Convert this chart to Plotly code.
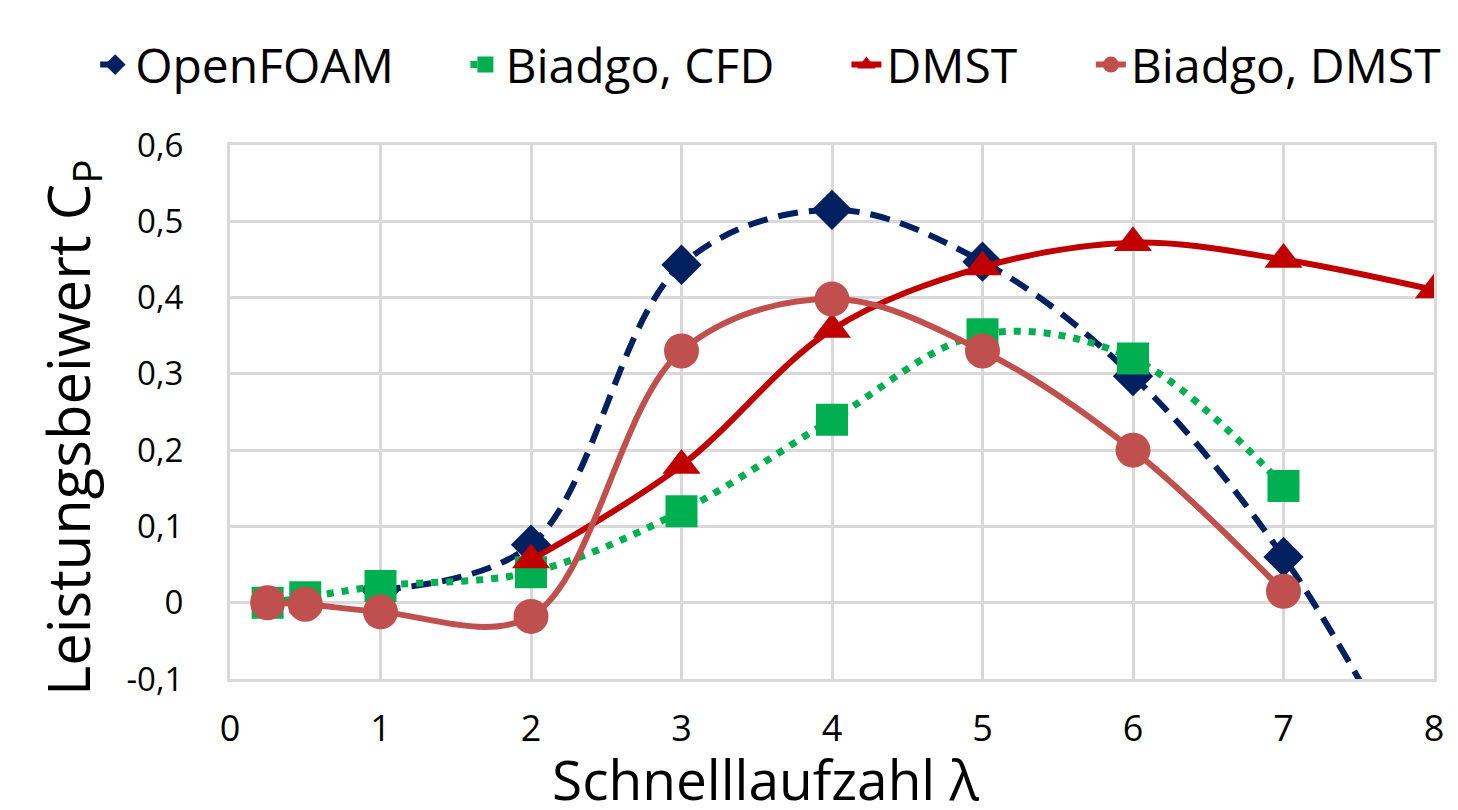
import plotly.graph_objects as go

# Data
of_x = [1, 2, 3, 4, 5, 6, 7, 8]
of_y = [0.017, 0.076, 0.443, 0.515, 0.447, 0.297, 0.06, -0.28]

cfd_x = [0.25, 0.5, 1, 2, 3, 4, 5, 6, 7]
cfd_y = [0.0, 0.007, 0.022, 0.04, 0.12, 0.24, 0.352, 0.32, 0.153]

dmst_x = [2, 3, 4, 5, 6, 7, 8]
dmst_y = [0.056, 0.18, 0.358, 0.44, 0.472, 0.45, 0.41]

bd_x = [0.25, 0.5, 1, 2, 3, 4, 5, 6, 7]
bd_y = [0.0, -0.002, -0.012, -0.018, 0.33, 0.398, 0.33, 0.2, 0.015]

x_ticks = [0, 1, 2, 3, 4, 5, 6, 7, 8]
y_ticks = [-0.1, 0, 0.1, 0.2, 0.3, 0.4, 0.5, 0.6]

x_title = "Schnelllaufzahl λ"
y_title = "Leistungsbeiwert C<sub>P</sub>"

FONT = "Open Sans"

fig = go.Figure()
fig.add_trace(go.Scatter(
    x=of_x, y=of_y, name="OpenFOAM", mode="lines+markers", legend="legend",
    line=dict(color="#002060", width=6, dash="20px,11px", shape="spline"),
    marker=dict(symbol="diamond", size=31, color="#002060"),
))
fig.add_trace(go.Scatter(
    x=cfd_x, y=cfd_y, name="Biadgo, CFD", mode="lines+markers", legend="legend2",
    line=dict(color="#00B050", width=7, dash="7px,8px", shape="spline"),
    marker=dict(symbol="square", size=32, color="#00B050"),
))
fig.add_trace(go.Scatter(
    x=dmst_x, y=dmst_y, name="DMST", mode="lines+markers", legend="legend3",
    line=dict(color="#C00000", width=6, shape="spline"),
    marker=dict(symbol="triangle-up", size=33, color="#C00000"),
))
fig.add_trace(go.Scatter(
    x=bd_x, y=bd_y, name="Biadgo, DMST", mode="lines+markers", legend="legend4",
    line=dict(color="#C0504D", width=6, shape="spline"),
    marker=dict(symbol="circle", size=35, color="#C0504D"),
))

def leg(xpos):
    return dict(
        orientation="h", x=xpos, xanchor="left", y=1.15, yanchor="middle",
        font=dict(size=48, family=FONT, color="black"),
        itemsizing="trace", bgcolor="rgba(0,0,0,0)",
    )

fig.update_layout(
    width=1458, height=810,
    margin=dict(l=230, r=21, t=145, b=131),
    paper_bgcolor="white", plot_bgcolor="white",
    separators=",.",
    font=dict(family=FONT, color="black"),
    showlegend=True,
    legend=leg(-0.112),
    legend2=leg(0.1955),
    legend3=leg(0.512),
    legend4=leg(0.715),
    annotations=[
        dict(text=x_title, xref="paper", yref="paper", x=0.445, y=-0.187,
             xanchor="center", yanchor="middle", showarrow=False,
             font=dict(size=55, family=FONT, color="black")),
        dict(text=y_title, xref="paper", yref="paper", x=-0.132, y=0.47,
             xanchor="center", yanchor="middle", showarrow=False, textangle=-90,
             font=dict(size=58, family=FONT, color="black")),
    ],
)
fig.update_xaxes(
    range=[0, 8], tickvals=x_ticks, ticktext=[str(v) for v in x_ticks],
    showgrid=True, gridcolor="#D9D9D9", gridwidth=3,
    showline=True, linecolor="#D9D9D9", linewidth=3, mirror=True,
    zeroline=False,
    ticks="outside", ticklen=16, tickcolor="rgba(0,0,0,0)",
    tickfont=dict(size=36, family=FONT, color="black"),
)
fig.update_yaxes(
    range=[-0.1, 0.6], tickvals=y_ticks,
    ticktext=[("%.1f" % v).replace(".", ",") if v != 0 else "0" for v in y_ticks],
    showgrid=True, gridcolor="#D9D9D9", gridwidth=3,
    showline=True, linecolor="#D9D9D9", linewidth=3, mirror=True,
    zeroline=False,
    ticks="outside", ticklen=37, tickcolor="rgba(0,0,0,0)",
    tickfont=dict(size=33, family=FONT, color="black"),
)

fig.write_html("out.html")
